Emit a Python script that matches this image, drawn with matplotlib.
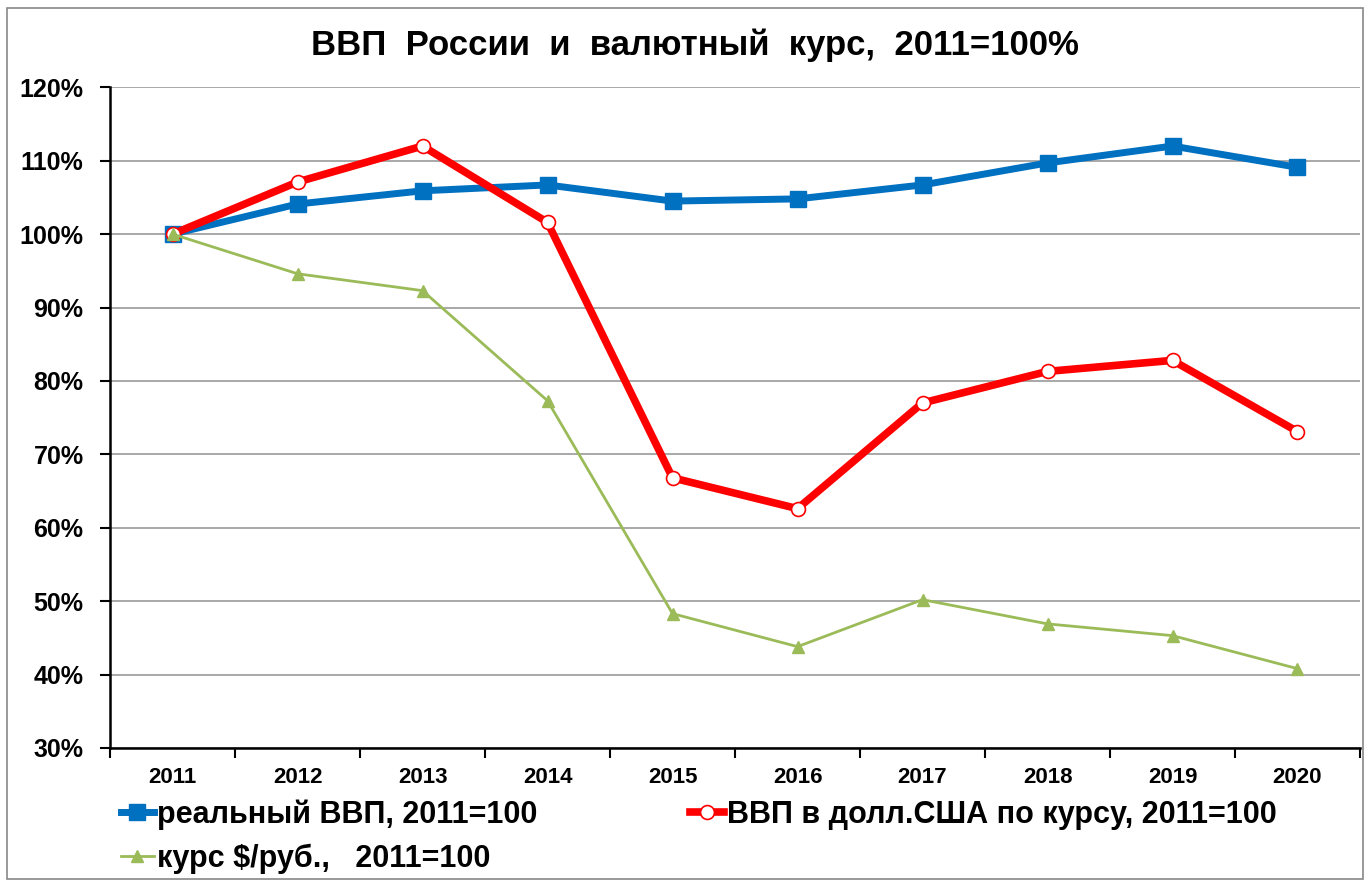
"""
ВВП России и валютный курс, 2011=100%.
Line chart rebuilt from the picture.
"""

import matplotlib.pyplot as plt
from matplotlib.patches import Rectangle
from matplotlib.ticker import FixedLocator, PercentFormatter

YEARS = ["2011", "2012", "2013", "2014", "2015", "2016", "2017", "2018", "2019", "2020"]

# values, % of 2011
REAL_GDP = [100.0, 104.1, 105.9, 106.7, 104.5, 104.8, 106.7, 109.7, 112.0, 109.1]
GDP_USD = [100.0, 107.1, 112.0, 101.6, 66.8, 62.6, 77.0, 81.3, 82.8, 73.1]
RATE = [100.0, 94.6, 92.3, 77.3, 48.3, 43.8, 50.2, 46.9, 45.3, 40.8]

LABEL_REAL = "реальный ВВП, 2011=100"
LABEL_USD = "ВВП в долл.США по курсу, 2011=100"
LABEL_RATE = "курс $/руб.,   2011=100"

plt.rcParams["font.family"] = ["Liberation Sans", "DejaVu Sans"]
plt.rcParams["font.weight"] = "bold"

fig = plt.figure(figsize=(13.7, 8.82), dpi=100)
ax = fig.add_axes([0.0803, 0.152, 0.9124, 0.749])

# outer frame of the chart
fig.patches.append(Rectangle((0.005, 0.003), 0.99, 0.988, transform=fig.transFigure,
                             fill=False, edgecolor="#888888", linewidth=1.2))

x = range(len(YEARS))
l_real, = ax.plot(x, REAL_GDP, color="#0070C0", linewidth=5, marker="s",
                  markersize=11, label=LABEL_REAL, zorder=3)
l_usd, = ax.plot(x, GDP_USD, color="#FF0000", linewidth=5.5, marker="o",
                 markersize=10, markerfacecolor="white", markeredgecolor="#FF0000",
                 markeredgewidth=1.2, label=LABEL_USD, zorder=4)
l_rate, = ax.plot(x, RATE, color="#9BBB59", linewidth=2, marker="^",
                  markersize=9, label=LABEL_RATE, zorder=5)

ax.set_ylim(30, 120)
ax.set_xlim(-0.5, len(YEARS) - 0.5)
ax.yaxis.set_major_locator(FixedLocator(range(30, 121, 10)))
ax.yaxis.set_major_formatter(PercentFormatter(decimals=0))
ax.grid(axis="y", color="#999999", linewidth=1.2)
ax.set_axisbelow(True)

# category axis: ticks between years, labels at centres
ax.set_xticks([i - 0.5 for i in range(len(YEARS) + 1)])
ax.set_xticklabels([])
ax.set_xticks(list(x), minor=True)
ax.set_xticklabels(YEARS, minor=True)
ax.tick_params(axis="x", which="minor", length=0, pad=14, labelsize=16)
ax.tick_params(axis="x", which="major", length=7, width=1.5, direction="out")
ax.tick_params(axis="y", length=7, width=1.5, labelsize=18, pad=12)

for side in ["top", "right"]:
    ax.spines[side].set_visible(False)
ax.spines["left"].set_linewidth(1.8)
ax.spines["bottom"].set_linewidth(1.8)

fig.text(0.507, 0.949, "ВВП  России  и  валютный  курс,  2011=100%", ha="center",
         va="center", fontsize=25, fontweight="bold")

fig.legend([l_real, l_rate, l_usd], [LABEL_REAL, LABEL_RATE, LABEL_USD],
           loc="upper left", bbox_to_anchor=(0.068, 0.125), ncol=2, frameon=False,
           handlelength=1.1, handletextpad=0.1, columnspacing=5.0, labelspacing=0.45,
           prop={"weight": "bold", "size": 22})

fig.savefig("out.png", dpi=100)
